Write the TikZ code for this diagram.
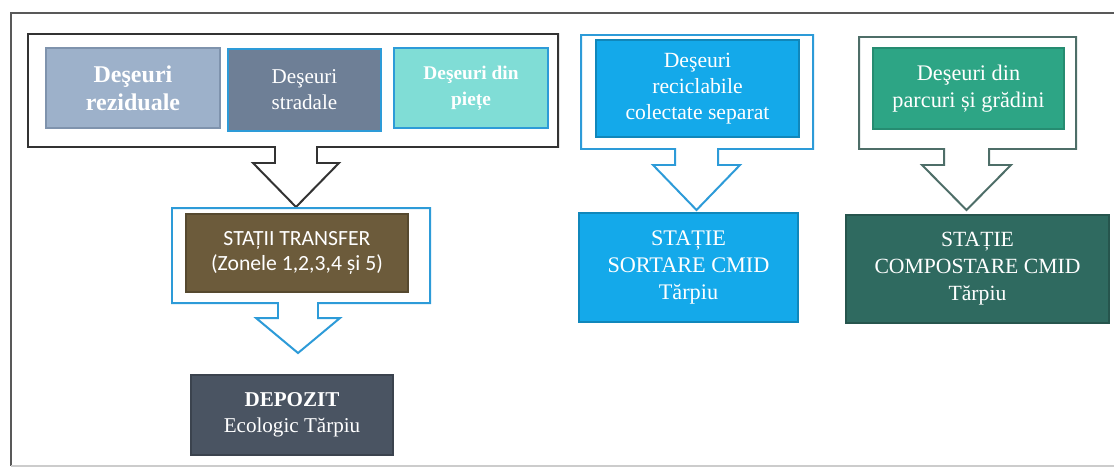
\documentclass[tikz,border=0pt]{standalone}
\usepackage{fontspec}
\setmainfont{Liberation Serif}
\newfontfamily\calibrifont{Carlito}
\usetikzlibrary{calc}
\definecolor{rezfill}{HTML}{9DB1CA}
\definecolor{rezline}{HTML}{7F93AD}
\definecolor{stradfill}{HTML}{6E7F96}
\definecolor{bluline}{HTML}{2D9BD8}
\definecolor{pietefill}{HTML}{80DDD6}
\definecolor{recfill}{HTML}{14A9EA}
\definecolor{parcfill}{HTML}{2DA585}
\definecolor{parcline}{HTML}{4E6E68}
\definecolor{transfill}{HTML}{6C5B3B}
\definecolor{depfill}{HTML}{4A5462}
\definecolor{compfill}{HTML}{2F6A60}
\def\framearrow[#1](#2,#3)(#4,#5)(#6:#7:#8:#9){\draw[#1] (#2,#3) -- (#4,#3) -- (#4,#5) -- (#7,#5) -- (#7,#8) -- ({#7+22},#8) -- ({(#6+#7)/2},#9) -- ({#6-22},#8) -- (#6,#8) -- (#6,#5) -- (#2,#5) -- cycle;}
\tikzset{
  wastebox/.style={draw, line width=1pt, text=white, align=center, inner sep=0pt, font=\fontsize{18}{22}\selectfont},
  framebox/.style={fill=white, line width=1.7pt, line join=miter}
}

\begin{document}
\begin{tikzpicture}[x=0.03cm, y=-0.03cm]
			%%%%% START %%%%%
			\useasboundingbox (0,0) rectangle (1114,470);
			\draw[black!65, line width=1.5pt] (1114,13) -- (11,13) -- (11,466);
			\draw[black!20, line width=1pt] (11,466) -- (1114,466);
			
			\framearrow[framebox, draw=black!80](28,34)(558,147)(275:317:163:207);
			\framearrow[framebox, draw=bluline](172,208)(430,303)(278:318:318:353);
			\framearrow[framebox, draw=bluline](581,35)(813,149)(675:718:165:210);
			\framearrow[framebox, draw=parcline](859,37)(1076,149)(944:989:165:210);
			
			\node[wastebox, fill=rezfill, draw=rezline, minimum width=5.22cm, minimum height=2.4cm, font=\fontsize{20.5}{24}\selectfont\bfseries] (rezid) at (133,88) {Deşeuri\\reziduale};
			\node[wastebox, fill=stradfill, draw=bluline, minimum width=4.59cm, minimum height=2.46cm] (strad) at (304.5,90) {Deşeuri\\stradale};
			\node[wastebox, fill=pietefill, draw=bluline, minimum width=4.62cm, minimum height=2.4cm, font=\fontsize{16.5}{22}\selectfont\bfseries] (piete) at (471,88) {Deşeuri din\\piețe};
			\node[wastebox, fill=recfill, draw=recfill!80!black, minimum width=6.09cm, minimum height=2.91cm, font=\fontsize{18.5}{22}\selectfont] (recic) at (697.5,88.5) {Deşeuri\\reciclabile\\colectate separat};
			\node[wastebox, fill=parcfill, draw=parcfill!85!black, minimum width=5.73cm, minimum height=2.43cm, font=\fontsize{19}{23}\selectfont] (parc) at (968.5,88.5) {Deşeuri din\\parcuri și grădini};
			
			\node[wastebox, fill=transfill, draw=transfill!80!black, minimum width=6.66cm, minimum height=2.34cm, font=\calibrifont\fontsize{18.5}{22}\selectfont] (transfer) at (297,253) {STAȚII TRANSFER\\(Zonele 1,2,3,4 și 5)};
			\node[wastebox, fill=depfill, draw=depfill!80!black, minimum width=6.06cm, minimum height=2.4cm] (depozit) at (292,415) {\textbf{DEPOZIT}\\Ecologic Tărpiu};
			\node[wastebox, fill=recfill, draw=recfill!80!black, minimum width=6.57cm, minimum height=3.27cm, font=\fontsize{19}{23}\selectfont] (sortare) at (688.5,267.5) {STAȚIE\\SORTARE CMID\\Tărpiu};
			\node[wastebox, fill=compfill, draw=compfill!80!black, minimum width=7.89cm, minimum height=3.24cm, font=\fontsize{18.5}{23}\selectfont] (compost) at (977.5,269) {STAȚIE\\COMPOSTARE CMID\\Tărpiu};
			%%%%% END %%%%%
\end{tikzpicture}
\end{document}
